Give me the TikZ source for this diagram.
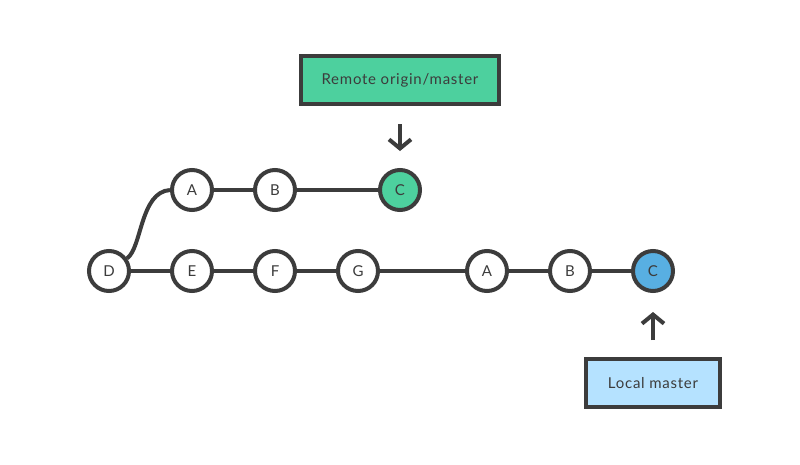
\documentclass[tikz,border=0pt]{standalone}
\usepackage{fontspec}
\setmainfont{Lato}[LetterSpace=5]
\usetikzlibrary{arrows.meta}
\definecolor{ink}{HTML}{3C3C3C}
\definecolor{gfill}{HTML}{4DD09E}
\definecolor{bfill}{HTML}{58AFE2}
\definecolor{lblue}{HTML}{B5E2FF}
\begin{document}
\begin{tikzpicture}[x=1pt,y=-1pt,
  commit/.style={circle,draw=ink,line width=4pt,fill=white,minimum size=40pt,inner sep=0pt,font=\fontsize{15}{17}\selectfont,text=ink},
  link/.style={draw=ink,line width=4pt},
  label/.style={draw=ink,line width=4pt,font=\fontsize{15}{17}\selectfont,text=ink,inner sep=0pt},
  ptr/.style={draw=ink,line width=4pt,-{Straight Barb[length=9pt,width=22pt,line width=4pt]}}]
\useasboundingbox (0,0) rectangle (800,464);
\fill[white] (0,0) rectangle (800,464);
% top row
\node[commit] (tA) at (192,190) {A};
\node[commit] (tB) at (275,190) {B};
\node[commit,fill=gfill] (tC) at (400,190) {C};
% bottom row
\node[commit] (D) at (109,271) {D};
\node[commit] (E) at (192,271) {E};
\node[commit] (F) at (275,271) {F};
\node[commit] (G) at (358,271) {G};
\node[commit] (bA) at (487,271) {A};
\node[commit] (bB) at (570,271) {B};
\node[commit,fill=bfill] (bC) at (653,271) {C};
% links
\draw[link] (tA) -- (tB);
\draw[link] (tB) -- (tC);
\draw[link] (D) -- (E);
\draw[link] (E) -- (F);
\draw[link] (F) -- (G);
\draw[link] (G) -- (bA);
\draw[link] (bA) -- (bB);
\draw[link] (bB) -- (bC);
\draw[link] (D.35) .. controls (142,248) and (140,192) .. (tA.west);
% labels
\node[label,fill=gfill,minimum width=198pt,minimum height=48pt] (remote) at (400,80) {Remote origin/master};
\node[label,fill=lblue,minimum width=134pt,minimum height=48pt] (local) at (653,383) {Local master};
\coordinate (rs) at (400,124);
\coordinate (re) at (400,151);
\coordinate (ls) at (653,340);
\coordinate (le) at (653,312);
\draw[ptr] (rs) -- (re);
\draw[ptr] (ls) -- (le);
\end{tikzpicture}
\end{document}
